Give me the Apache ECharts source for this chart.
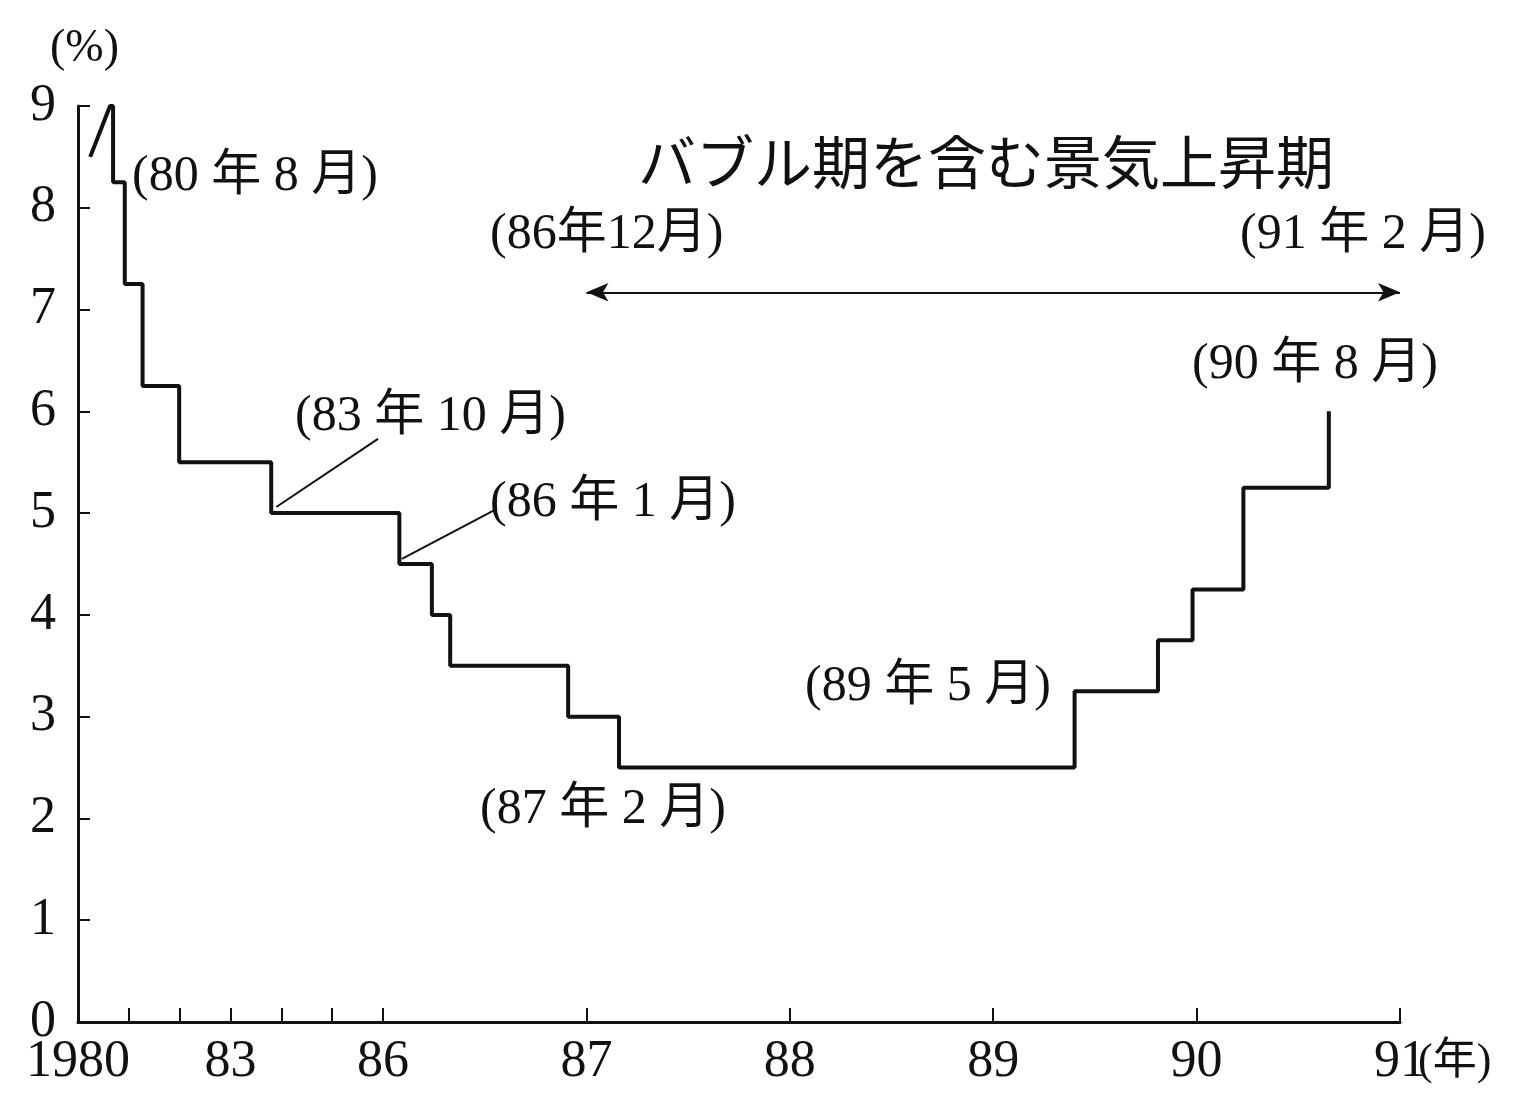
<!DOCTYPE html>
<html><head><meta charset="utf-8">
<script src="https://cdn.jsdelivr.net/npm/echarts@6/dist/echarts.min.js"></script>
<style>html,body{margin:0;background:#fff}#c{width:1524px;height:1109px}</style>
</head><body><div id="c"></div>
<script>
// change dates (decimal year) and rate (%) after the change
const changeDates = [1980.24,1980.63,1980.69,1980.92,1981.27,1981.99,1983.80,1986.08,1986.24,1986.33,1986.91,1987.16,1989.40,1989.81,1989.98,1990.23,1990.65];
const rates       = [8.5,   9.0,    8.25,   7.25,   6.25,   5.5,    5.0,    4.5,    4.0,    3.5,    3.0,    2.5,    3.25,   3.75,   4.25,   5.25,   6.0];
const tickYears = [1980,1981,1982,1983,1984,1985,1986,1987,1988,1989,1990,1991];
const labelYears = [1980,1983,1986,1987,1988,1989,1990,1991];
const labelTexts = ['1980','83','86','87','88','89','90','91'];

// piecewise axis: 1980-86 compressed (1 unit/yr), 86-91 expanded (4 units/yr)
const pos = y => y <= 1986 ? y - 1980 : 6 + (y - 1986) * 4;

const pts = [[pos(changeDates[0]), rates[0]], [pos(changeDates[1]), rates[1]]];
for (let i = 2; i < changeDates.length; i++) {
  pts.push([pos(changeDates[i]), rates[i-1]]);
  pts.push([pos(changeDates[i]), rates[i]]);
}

const F = '"Liberation Serif","Noto Sans CJK JP",serif';
const T = (x, y, s, fs) => ({type:'text', left:x, top:y, style:{text:s, font:`${fs||50}px ${F}`, fill:'#111'}});

const chart = echarts.init(document.getElementById('c'));
chart.setOption({
  animation:false,
  grid:{left:78, right:124, top:106, bottom:87},
  xAxis:{type:'value', min:0, max:26,
    axisLine:{lineStyle:{color:'#111', width:3}},
    axisTick:{inside:true, length:14, lineStyle:{color:'#111', width:2}, customValues: tickYears.map(pos)},
    axisLabel:{color:'#111', fontSize:52, fontFamily:F, margin:14,
      customValues: labelYears.map(pos),
      formatter: v => { const i = labelYears.map(pos).findIndex(p => Math.abs(p - v) < 1e-6); return i >= 0 ? labelTexts[i] : ''; }},
    splitLine:{show:false}},
  yAxis:{type:'value', min:0, max:9, interval:1,
    axisLine:{show:true, lineStyle:{color:'#111', width:3}},
    axisTick:{show:true, inside:true, length:12, lineStyle:{color:'#111', width:2}},
    axisLabel:{color:'#111', fontSize:52, fontFamily:F, margin:22},
    splitLine:{show:false}},
  series:[{type:'line', data:pts, symbol:'none', lineStyle:{color:'#111', width:4},
    markLine:{silent:true, symbol:['arrow','arrow'], symbolSize:[14,22], label:{show:false},
      lineStyle:{color:'#111', width:2, type:'solid'},
      data:[[{coord:[pos(1987),7.17]},{coord:[pos(1991),7.17]}],
            [{coord:[pos(1983.80)+0.1,5.06],symbol:'none'},{coord:[pos(1983.80)+2.1,5.73],symbol:'none'}],
            [{coord:[pos(1986.08)+0.05,4.55],symbol:'none'},{coord:[pos(1986.08)+1.87,5.03],symbol:'none'}]]}}],
  graphic:[
    T(50,26,'(%)',46),
    T(132,152,'(80 年 8 月)'),
    T(638,140,'バブル期を含む景気上昇期',58),
    T(490,210,'(86年12月)'),
    T(1240,210,'(91 年 2 月)'),
    T(1192,340,'(90 年 8 月)'),
    T(295,392,'(83 年 10 月)'),
    T(490,478,'(86 年 1 月)'),
    T(805,662,'(89 年 5 月)'),
    T(480,785,'(87 年 2 月)'),
    T(1418,1040,'(年)',44)
  ]
});
</script></body></html>
